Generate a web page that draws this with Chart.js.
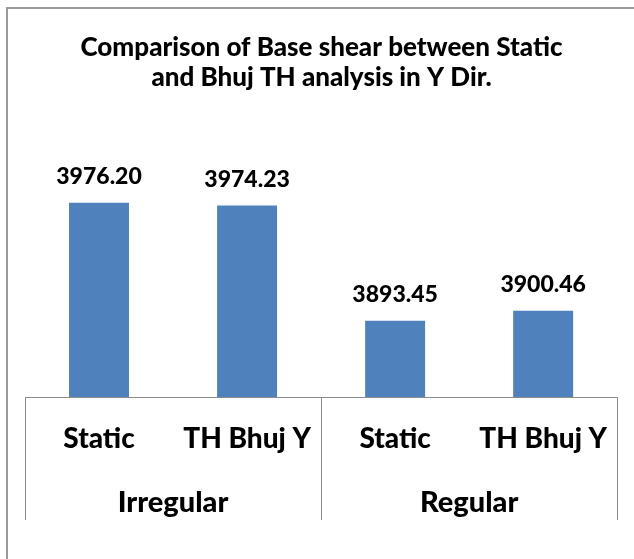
<!DOCTYPE html>
<html>
<head>
<meta charset="utf-8">
<script src="https://cdn.jsdelivr.net/npm/chart.js@4"></script>
<style>
  html, body { margin: 0; padding: 0; background: #ffffff; }
  #wrap { position: relative; width: 634px; height: 559px; }
</style>
</head>
<body>
<div id="wrap"><canvas id="c" width="634" height="559"></canvas></div>
<script>
const titleLines = ["Comparison of Base shear between Static", "and Bhuj TH analysis in Y Dir."];
const categories = ["Static", "TH Bhuj Y", "Static", "TH Bhuj Y"];
const groups = ["Irregular", "Regular"];
const groupSizes = [2, 2];
const baseShear = [3976.20, 3974.23, 3893.45, 3900.46];
const valueLabels = ["3976.20", "3974.23", "3893.45", "3900.46"];
const yMin = 3840;
const yMax = 4000;

const FONT = "Lato, 'Open Sans', sans-serif";
const WEIGHT = "900";
const LINE = "#8c8c8c";

const decor = {
  id: "decor",
  beforeDraw(chart) {
    const ctx = chart.ctx;
    ctx.save();
    ctx.strokeStyle = "#9a9a9a";
    ctx.lineWidth = 2;
    ctx.beginPath();
    ctx.moveTo(7, 600);
    ctx.lineTo(7, 8);
    ctx.lineTo(700, 8);
    ctx.stroke();
    ctx.restore();
  },
  afterDraw(chart) {
    const ctx = chart.ctx;
    const x = chart.scales.x;
    const area = chart.chartArea;
    const bottom = 520;
    ctx.save();
    const seps = [area.left];
    let idx = 0;
    for (let g = 0; g < groups.length; g++) {
      idx += groupSizes[g];
      if (idx < categories.length) {
        seps.push((x.getPixelForValue(idx - 1) + x.getPixelForValue(idx)) / 2);
      }
    }
    seps.push(area.right);
    ctx.strokeStyle = LINE;
    ctx.lineWidth = 1;
    seps.forEach(px => {
      const p = Math.round(px) + 0.5;
      ctx.beginPath();
      ctx.moveTo(p, area.bottom);
      ctx.lineTo(p, bottom);
      ctx.stroke();
    });
    ctx.fillStyle = "#000";
    ctx.font = WEIGHT + " 29px " + FONT;
    ctx.textAlign = "center";
    ctx.textBaseline = "middle";
    let start = 0;
    groups.forEach((g, gi) => {
      const a = x.getPixelForValue(start);
      const b = x.getPixelForValue(start + groupSizes[gi] - 1);
      ctx.fillText(g, (a + b) / 2, 503);
      start += groupSizes[gi];
    });
    ctx.font = WEIGHT + " 23px " + FONT;
    const meta = chart.getDatasetMeta(0);
    meta.data.forEach((bar, i) => {
      ctx.fillText(valueLabels[i], bar.x, bar.y - 26);
    });
    ctx.restore();
  }
};

new Chart(document.getElementById("c"), {
  type: "bar",
  data: {
    labels: categories,
    datasets: [{
      data: baseShear,
      backgroundColor: "#4f81bd",
      borderWidth: 0,
      categoryPercentage: 1.0,
      barPercentage: 0.405
    }]
  },
  options: {
    responsive: false,
    animation: false,
    devicePixelRatio: 1,
    layout: { padding: { left: 25, right: 16, top: 0, bottom: 0 } },
    plugins: {
      legend: { display: false },
      tooltip: { enabled: false },
      title: {
        display: true,
        text: titleLines,
        color: "#000",
        font: { family: FONT, size: 26, weight: WEIGHT, lineHeight: 1.15 },
        padding: { top: 33, bottom: 76 }
      }
    },
    scales: {
      y: { display: false, min: yMin, max: yMax },
      x: {
        grid: { display: false, drawTicks: false },
        border: { display: true, color: LINE, width: 1 },
        ticks: {
          color: "#000",
          font: { family: FONT, size: 28, weight: WEIGHT },
          padding: 25,
          maxRotation: 0,
          autoSkip: false
        },
        afterFit(scale) { scale.height = 162; }
      }
    }
  },
  plugins: [decor]
});
</script>
</body>
</html>
